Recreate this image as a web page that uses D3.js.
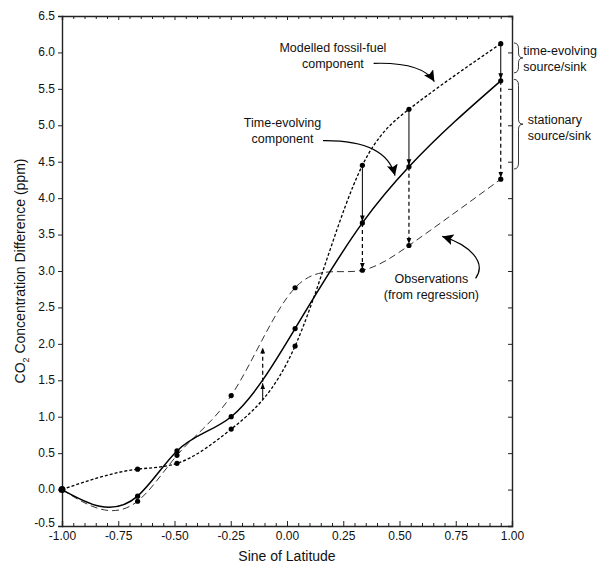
<!DOCTYPE html>
<meta charset="utf-8">
<script src="https://d3js.org/d3.v7.min.js"></script>
<style>
  body { margin: 0; background: #fff; }
  text { font-family: "Liberation Sans", Arial, Helvetica, sans-serif; fill: #111; }
</style>
<body>
<div id="chart"></div>
<script>
// sine of latitude of the sampling stations
var stationX = [-1.0, -0.664, -0.489, -0.248, 0.036, 0.335, 0.542, 0.95];
// modelled fossil-fuel component
var fossil = [0.0, 0.28, 0.36, 0.83, 1.97, 4.45, 5.22, 6.12];
// time-evolving component
var timeEvolving = [0.0, -0.09, 0.53, 1.0, 2.21, 3.66, 4.43, 5.61];
// observations (from regression)
var observations = [0.0, -0.16, 0.47, 1.29, 2.77, 3.01, 3.35, 4.26];

// vertical arrows: x, fossil value, time-evolving value, observation value
var arrowX = [-0.108, 0.335, 0.542, 0.95];
var arrowFossil = [1.24, 4.45, 5.22, 6.12];
var arrowTime = [1.48, 3.66, 4.43, 5.61];
var arrowObs = [1.97, 3.01, 3.35, 4.26];

var xMajor = [-1.0, -0.75, -0.5, -0.25, 0.0, 0.25, 0.5, 0.75, 1.0];
var yMajor = [-0.5, 0.0, 0.5, 1.0, 1.5, 2.0, 2.5, 3.0, 3.5, 4.0, 4.5, 5.0, 5.5, 6.0, 6.5];

// natural cubic spline y(x) as a d3 curve (knots are non-uniform in x)
function SplineX(context) { this._context = context; }
SplineX.prototype = {
  areaStart: function() {}, areaEnd: function() {},
  lineStart: function() { this._x = []; this._y = []; },
  point: function(x, y) { this._x.push(+x); this._y.push(+y); },
  lineEnd: function() {
    var xs = this._x, ys = this._y, n = xs.length - 1, c = this._context;
    if (n < 1) return;
    var h = [], i;
    for (i = 0; i < n; i++) h.push(xs[i + 1] - xs[i]);
    // solve for second derivatives
    var M = new Array(n + 1).fill(0);
    if (n > 1) {
      var a = [], b = [], cc = [], r = [];
      for (i = 1; i < n; i++) {
        a.push(h[i - 1]); b.push(2 * (h[i - 1] + h[i])); cc.push(h[i]);
        r.push(6 * ((ys[i + 1] - ys[i]) / h[i] - (ys[i] - ys[i - 1]) / h[i - 1]));
      }
      var m = b.length;
      for (i = 1; i < m; i++) {
        var w = a[i] / b[i - 1];
        b[i] -= w * cc[i - 1];
        r[i] -= w * r[i - 1];
      }
      var sol = new Array(m);
      sol[m - 1] = r[m - 1] / b[m - 1];
      for (i = m - 2; i >= 0; i--) sol[i] = (r[i] - cc[i] * sol[i + 1]) / b[i];
      for (i = 0; i < m; i++) M[i + 1] = sol[i];
    }
    var slope = [];
    for (i = 0; i < n; i++) slope.push((ys[i + 1] - ys[i]) / h[i] - h[i] * (2 * M[i] + M[i + 1]) / 6);
    slope.push((ys[n] - ys[n - 1]) / h[n - 1] + h[n - 1] * (M[n - 1] + 2 * M[n]) / 6);
    c.moveTo(xs[0], ys[0]);
    for (i = 0; i < n; i++) {
      var d = h[i] / 3;
      c.bezierCurveTo(xs[i] + d, ys[i] + slope[i] * d,
                      xs[i + 1] - d, ys[i + 1] - slope[i + 1] * d,
                      xs[i + 1], ys[i + 1]);
    }
  }
};
function curveSplineX(context) { return new SplineX(context); }

(function() {
  var margin = {top: 16, right: 98, bottom: 41, left: 62},
    width = 610 - margin.left - margin.right,
    height = 567 - margin.top - margin.bottom;

  var svg = d3.select("#chart")
    .append("svg")
      .attr("width", 610)
      .attr("height", 567)
    .append("g")
      .attr("transform", "translate(" + margin.left + "," + margin.top + ")");

  var x = d3.scaleLinear().domain([-1, 1]).range([0, width]);
  var y = d3.scaleLinear().domain([-0.5, 6.5]).range([height, 0]);

  var xMinor = d3.range(-1, 1.0001, 0.05).map(function(v) { return +v.toFixed(2); })
    .filter(function(v) { return xMajor.indexOf(v) < 0; });

  var defs = svg.append("defs");
  defs.append("marker")
    .attr("id", "head")
    .attr("viewBox", "0 0 10 10")
    .attr("refX", 10).attr("refY", 5)
    .attr("markerWidth", 6).attr("markerHeight", 6)
    .attr("markerUnits", "userSpaceOnUse")
    .attr("orient", "auto")
    .append("path").attr("d", "M0,1 L10,5 L0,9 z").attr("fill", "#000");
  defs.append("marker")
    .attr("id", "bighead")
    .attr("viewBox", "0 0 10 10")
    .attr("refX", 10).attr("refY", 5)
    .attr("markerWidth", 11).attr("markerHeight", 11)
    .attr("markerUnits", "userSpaceOnUse")
    .attr("orient", "auto")
    .append("path").attr("d", "M0,0 L10,5 L0,10 L2,5 z").attr("fill", "#000");

  var fmt = function(d) { return d3.format(".2f")(d).replace("−", "-"); };
  var fmtY = function(d) { return d3.format(".1f")(d).replace("−", "-"); };

  // bottom axis (ticks inward)
  svg.append("g")
    .attr("class", "axis")
    .attr("transform", "translate(0," + height + ")")
    .call(d3.axisBottom(x).tickValues(xMinor).tickSize(-3).tickFormat(""))
    .call(function(g) { g.select(".domain").remove(); });
  svg.append("g")
    .attr("class", "axis")
    .attr("transform", "translate(0," + height + ")")
    .call(d3.axisBottom(x).tickValues(xMajor).tickSize(-5).tickPadding(5).tickFormat(fmt));

  // top axis
  svg.append("g")
    .attr("class", "axis")
    .call(d3.axisTop(x).tickValues(xMinor).tickSize(-3).tickFormat(""))
    .call(function(g) { g.select(".domain").remove(); });
  svg.append("g")
    .attr("class", "axis")
    .call(d3.axisTop(x).tickValues(xMajor).tickSize(-4).tickFormat(""));

  // left axis (ticks outward)
  var yAxis = svg.append("g")
    .attr("class", "axis")
    .call(d3.axisLeft(y).tickValues(yMajor).tickSize(4).tickPadding(3).tickFormat(fmtY));
  yAxis.selectAll(".tick text").attr("dy", function(d) { return d === -0.5 ? "0.05em" : "0.28em"; });

  // right axis (ticks inward)
  svg.append("g")
    .attr("class", "axis")
    .attr("transform", "translate(" + width + ",0)")
    .call(d3.axisRight(y).tickValues(yMajor).tickSize(-4).tickFormat(""));

  svg.selectAll(".axis .domain").attr("stroke", "#222").attr("stroke-width", 1.4);
  svg.selectAll(".axis .tick line").attr("stroke", "#222").attr("stroke-width", 1);
  svg.selectAll(".axis text")
    .style("font-family", "'Liberation Sans', Arial, sans-serif")
    .style("font-size", "12px")
    .attr("fill", "#111");

  // axis titles
  svg.append("text")
    .attr("x", width / 2)
    .attr("y", height + 35)
    .attr("text-anchor", "middle")
    .style("font-size", "14px")
    .text("Sine of Latitude");

  var yt = svg.append("text")
    .attr("transform", "translate(" + (-37) + "," + (height / 2) + ") rotate(-90)")
    .attr("text-anchor", "middle")
    .style("font-size", "14px");
  yt.append("tspan").text("CO");
  yt.append("tspan").attr("dy", 4).style("font-size", "9px").text("2");
  yt.append("tspan").attr("dy", -4).text(" Concentration Difference (ppm)");

  function pts(vals) {
    return stationX.map(function(d, i) { return [d, vals[i]]; });
  }

  var line = d3.line()
    .x(function(d) { return x(d[0]); })
    .y(function(d) { return y(d[1]); })
    .curve(curveSplineX);

  svg.append("path")
    .datum(pts(observations))
    .attr("fill", "none")
    .attr("stroke", "#333")
    .attr("stroke-width", 1)
    .attr("stroke-dasharray", "7,4")
    .attr("d", line);

  svg.append("path")
    .datum(pts(fossil))
    .attr("fill", "none")
    .attr("stroke", "#000")
    .attr("stroke-width", 1.3)
    .attr("stroke-dasharray", "3,2")
    .attr("d", line);

  svg.append("path")
    .datum(pts(timeEvolving))
    .attr("fill", "none")
    .attr("stroke", "#000")
    .attr("stroke-width", 1.5)
    .attr("d", line);

  // vertical arrows
  arrowX.forEach(function(ax, i) {
    svg.append("line")
      .attr("x1", x(ax)).attr("x2", x(ax))
      .attr("y1", y(arrowFossil[i])).attr("y2", y(arrowTime[i]) + (arrowFossil[i] > arrowTime[i] ? -1.5 : 1.5))
      .attr("stroke", "#000").attr("stroke-width", 1)
      .attr("marker-end", "url(#head)");
    svg.append("line")
      .attr("x1", x(ax)).attr("x2", x(ax))
      .attr("y1", y(arrowTime[i])).attr("y2", y(arrowObs[i]) + (arrowTime[i] > arrowObs[i] ? -1.5 : 1.5))
      .attr("stroke", "#000").attr("stroke-width", 1.2)
      .attr("stroke-dasharray", "4,3")
      .attr("marker-end", "url(#head)");
  });

  // points
  [fossil, timeEvolving, observations].forEach(function(vals) {
    svg.selectAll(null)
      .data(pts(vals).slice(1))
      .enter().append("circle")
      .attr("cx", function(d) { return x(d[0]); })
      .attr("cy", function(d) { return y(d[1]); })
      .attr("r", 2.6)
      .attr("fill", "#000");
  });
  svg.append("circle").attr("cx", x(-1)).attr("cy", y(0)).attr("r", 3.5).attr("fill", "#000");

  // annotations
  function label(lines, cx, cy0, anchor) {
    var t = svg.append("text")
      .attr("text-anchor", anchor)
      .style("font-size", "12.5px");
    lines.forEach(function(s, i) {
      t.append("tspan").attr("x", x(cx)).attr("y", y(cy0) + i * 16).text(s);
    });
  }
  label(["Modelled fossil-fuel", "component"], 0.204, 6.0, "middle");
  label(["Time-evolving", "component"], -0.02, 4.97, "middle");
  label(["Observations", "(from regression)"], 0.642, 2.84, "middle");

  var a1 = d3.path();
  a1.moveTo(x(0.385), y(5.85));
  a1.quadraticCurveTo(x(0.6), y(5.87), x(0.655), y(5.6));
  var a2 = d3.path();
  a2.moveTo(x(0.16), y(4.79));
  a2.quadraticCurveTo(x(0.44), y(4.8), x(0.48), y(4.31));
  var a3 = d3.path();
  a3.moveTo(x(0.838), y(2.9));
  a3.bezierCurveTo(x(0.89), y(3.12), x(0.81), y(3.36), x(0.69), y(3.475));
  [a1, a2, a3].forEach(function(p) {
    svg.append("path").attr("d", p.toString())
      .attr("fill", "none").attr("stroke", "#000").attr("stroke-width", 1.2)
      .attr("marker-end", "url(#bighead)");
  });

  // braces on the right
  function brace(top, bottom) {
    var x0 = width + 2, w = 9;
    var yt0 = y(top), yb = y(bottom), ym = (yt0 + yb) / 2;
    var p = "M" + x0 + "," + yt0 +
      " Q" + (x0 + w / 2) + "," + yt0 + " " + (x0 + w / 2) + "," + (yt0 + 6) +
      " L" + (x0 + w / 2) + "," + (ym - 5) +
      " Q" + (x0 + w / 2) + "," + ym + " " + (x0 + w) + "," + ym +
      " Q" + (x0 + w / 2) + "," + ym + " " + (x0 + w / 2) + "," + (ym + 5) +
      " L" + (x0 + w / 2) + "," + (yb - 6) +
      " Q" + (x0 + w / 2) + "," + yb + " " + x0 + "," + yb;
    svg.append("path").attr("d", p).attr("fill", "none")
      .attr("stroke", "#222").attr("stroke-width", 0.9);
  }
  brace(6.13, 5.72);
  brace(5.63, 4.40);

  label(["time-evolving", "source/sink"], 1.05, 5.96, "start");
  label(["stationary", "source/sink"], 1.07, 5.02, "start");
})();
</script>
</body>
